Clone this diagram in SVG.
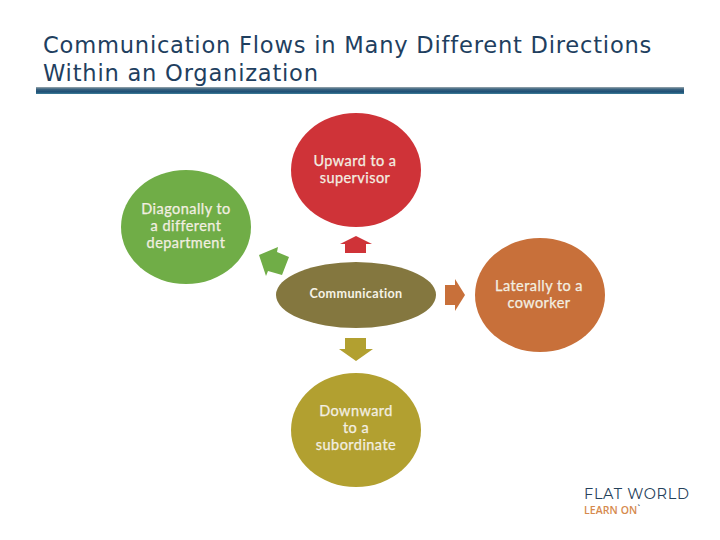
<svg xmlns="http://www.w3.org/2000/svg" width="720" height="540" viewBox="0 0 720 540">
<style>
.title{font-family:"DejaVu Sans",Verdana,sans-serif;font-size:22.6px;letter-spacing:.77px;fill:#1f3f5f}
.n{font-family:Lato,"Open Sans",sans-serif;font-size:14.500px;font-weight:400;letter-spacing:.45px;fill:#f3efe2;stroke:#f3efe2;stroke-width:.25px;text-anchor:middle}
.c{font-family:Lato,"Open Sans",sans-serif;font-size:12.600px;font-weight:700;letter-spacing:.35px;fill:#f6f3e6;text-anchor:middle}
</style>
<defs>
<linearGradient id="bar" x1="0" y1="0" x2="0" y2="1">
<stop offset="0" stop-color="#9aa8ae"/><stop offset="0.3" stop-color="#3d6480"/><stop offset="0.7" stop-color="#1c4f75"/><stop offset="1" stop-color="#3f7f9a"/>
</linearGradient>
</defs>
<rect width="720" height="540" fill="#fff"/>
<text class="title" x="43" y="52.500">Communication Flows in Many Different Directions</text>
<text class="title" x="43" y="81">Within an Organization</text>
<rect x="36" y="87" width="648" height="7" fill="url(#bar)"/>
<g id="connectors">
<polygon points="340,244 356,236 372,244 366,244 366,253 345,253 345,244" fill="#cf3338"/>
<polygon points="445,285 455,285 455,279 465,295 455,311 455,305 445,305" fill="#c8703a"/>
<polygon points="345,338 366,338 366,349 373,349 356,361 339,349 345,349" fill="#b2a030"/>
<polygon points="259,255 278,247 277,252 289,257 282,275 268,271 266,276" fill="#70ad47"/>
</g>
<g id="up"><ellipse cx="356" cy="170" rx="65" ry="57" fill="#cf3338"/><text class="n" x="355" y="166">Upward to a</text><text class="n" x="355" y="183">supervisor</text></g>
<g id="diag"><ellipse cx="186" cy="227" rx="65" ry="57" fill="#70ad47"/><text class="n" x="186" y="214">Diagonally to</text><text class="n" x="186" y="231">a different</text><text class="n" x="186" y="248">department</text></g>
<g id="comm"><ellipse cx="356" cy="295" rx="80" ry="33" fill="#84773f"/><text class="c" x="356" y="298">Communication</text></g>
<g id="lat"><ellipse cx="540" cy="295" rx="65" ry="57" fill="#c8703a"/><text class="n" x="539" y="291">Laterally to a</text><text class="n" x="539" y="308">coworker</text></g>
<g id="down"><ellipse cx="356" cy="430" rx="65" ry="57" fill="#b2a030"/><text class="n" x="356" y="416">Downward</text><text class="n" x="356" y="433">to a</text><text class="n" x="356" y="450">subordinate</text></g>
<g id="logo">
<text x="584" y="499" font-family="Montserrat,'Open Sans',sans-serif" font-size="14.500" fill="#24405a" textLength="105">FLAT WORLD</text>
<text x="584" y="514" font-family="'Open Sans',sans-serif" font-size="10.500" font-weight="600" fill="#d68a4e" textLength="56">LEARN ON<tspan fill="#24405a" font-size="8" dy="-2">`</tspan></text>
</g>
</svg>
